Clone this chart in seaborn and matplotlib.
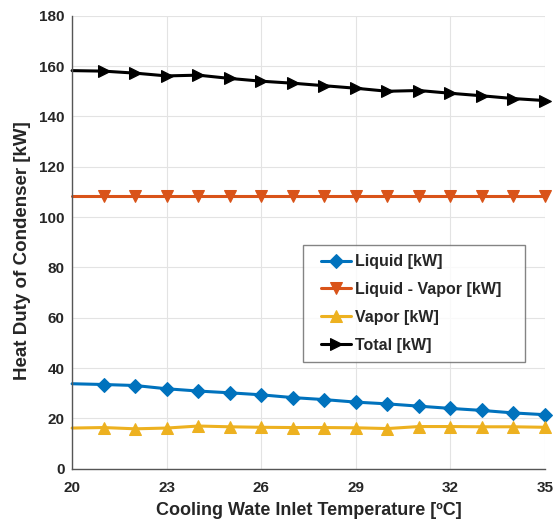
import matplotlib
matplotlib.use("Agg")
import matplotlib.pyplot as plt
import pandas as pd
import seaborn as sns
from matplotlib.legend_handler import HandlerLine2D
from matplotlib.lines import Line2D

# Cooling water inlet temperature [°C]
temperature = list(range(20, 36))

# Heat duty of condenser [kW]
liquid = [33.8, 33.5, 33.1, 31.8, 30.9, 30.2, 29.4, 28.3, 27.5, 26.5, 25.8, 24.9, 24.0, 23.2, 22.2, 21.5]
liquid_vapor = [108.2] * 16
vapor = [16.2, 16.4, 15.9, 16.2, 17.0, 16.7, 16.5, 16.4, 16.4, 16.3, 16.0, 16.8, 16.8, 16.7, 16.7, 16.5]
total = [158.2, 158.0, 157.2, 156.1, 156.4, 155.1, 154.0, 153.2, 152.2, 151.2, 150.0, 150.3, 149.2, 148.2, 147.1, 146.3]

SERIES = [
    ("Liquid [kW]", liquid, "#0072BD", "D", 7),
    ("Liquid - Vapor [kW]", liquid_vapor, "#D95319", "v", 8),
    ("Vapor [kW]", vapor, "#EDB120", "^", 8),
    ("Total [kW]", total, "black", ">", 9),
]

sns.set_style("whitegrid")
plt.rcParams["font.family"] = ["Liberation Sans", "DejaVu Sans"]
plt.rcParams["font.weight"] = "bold"
TEXT = "#262626"

fig = plt.figure(figsize=(5.59, 5.25), dpi=100)
ax = fig.add_axes([0.129, 0.107, 0.846, 0.863])

for name, values, color, marker, msize in SERIES:
    df = pd.DataFrame({"T": temperature, "Q": values})
    sns.lineplot(
        data=df, x="T", y="Q", ax=ax, color=color, marker=marker,
        markersize=msize, markeredgecolor=color, linewidth=2.2,
        markevery=list(range(1, 16)), label=name, clip_on=False,
    )

ax.set_xlim(20, 35)
ax.set_ylim(0, 180)
ax.set_xticks([20, 23, 26, 29, 32, 35])
ax.set_yticks(range(0, 181, 20))
ax.tick_params(axis="both", labelsize=11, direction="in", length=4,
               color="#555555", labelcolor=TEXT)
ax.tick_params(axis="x", pad=9)
ax.tick_params(axis="y", pad=5.5)
for lbl in ax.get_xticklabels() + ax.get_yticklabels():
    lbl.set_fontweight("bold")

ax.grid(True, color="#e3e3e3", linewidth=0.8)
for side in ("top", "right"):
    ax.spines[side].set_visible(False)
for side in ("left", "bottom"):
    ax.spines[side].set_color("#555555")
    ax.spines[side].set_linewidth(1.0)

ax.set_xlabel("Cooling Wate Inlet Temperature [ºC]", fontsize=13, fontweight="bold", color=TEXT)
ax.set_ylabel("Heat Duty of Condenser [kW]", fontsize=13.5, fontweight="bold", color=TEXT)
ax.xaxis.set_label_coords(0.5, -0.073)
ax.yaxis.set_label_coords(-0.087, 0.481)

# extra left padding in front of the legend handles (xpad), MATLAB-like
leg = ax.legend(
    loc="upper left", bbox_to_anchor=(0.488, 0.494, 0.47, 0.0), mode="expand",
    prop={"weight": "bold", "size": 11.5}, frameon=True, fancybox=False,
    edgecolor="#666666", handlelength=2.44, borderpad=0.57, labelspacing=0.81,
    handletextpad=0.25, borderaxespad=0.0,
    handler_map={Line2D: HandlerLine2D(xpad=0.58)},
)
leg.get_frame().set_linewidth(1.0)
for t in leg.get_texts():
    t.set_color(TEXT)

fig.savefig("out.png", dpi=100)
